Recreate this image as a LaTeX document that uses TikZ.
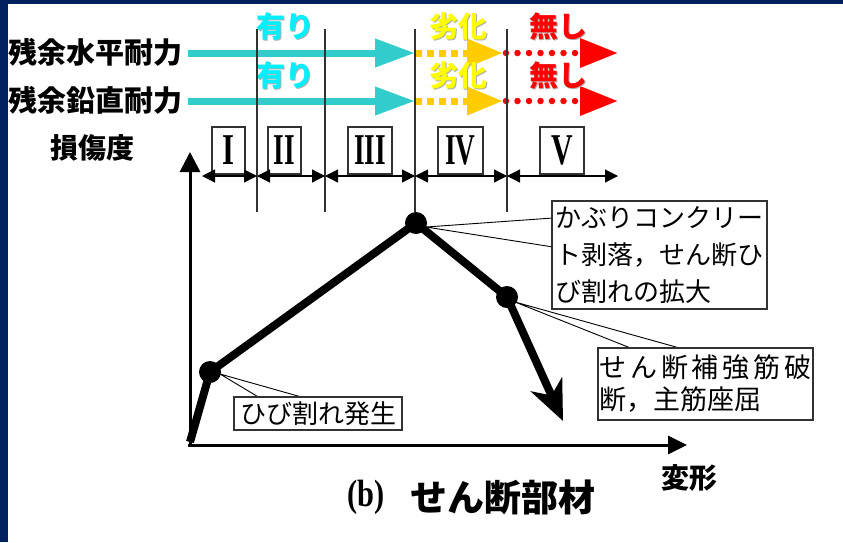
\documentclass[tikz,border=0pt]{standalone}
\usepackage{fontspec}
\usepackage{graphicx}
\setmainfont{Liberation Serif}
\newfontfamily\jp{Noto Sans CJK JP}
\usetikzlibrary{arrows.meta}
\definecolor{navy}{RGB}{0,32,96}
\definecolor{arrcyan}{RGB}{51,204,204}
\definecolor{txtcyan}{RGB}{0,240,255}
\definecolor{arryel}{RGB}{255,204,0}
\definecolor{txtyel}{RGB}{255,255,0}
\definecolor{arrred}{RGB}{255,0,0}
\definecolor{shadowgray}{RGB}{175,175,175}
\definecolor{boxgray}{RGB}{50,50,50}
\newcommand\shadowtxt[2]{\makebox[0pt][l]{\hspace{1.8pt}\raisebox{-1.8pt}{\textcolor{shadowgray}{#2}}}\textcolor{#1}{#2}}
\begin{document}
\begin{tikzpicture}[x=1pt,y=-1pt,
  rowlbl/.style={font=\jp\bfseries\fontsize{29}{30}\selectfont, inner sep=0},
  stat/.style={font=\jp\bfseries\fontsize{29}{30}\selectfont, inner sep=0},
  romanbox/.style={draw=boxgray, line width=1.2pt, fill=white, minimum height=47pt, inner sep=0, font=\bfseries\fontsize{44}{44}\selectfont},
  sepline/.style={draw=boxgray, line width=1.2pt},
  span/.style={{Triangle[length=13pt,width=13pt]}-{Triangle[length=13pt,width=13pt]}, line width=1.2pt},
  callbox/.style={draw=boxgray, line width=1.2pt, fill=white, align=left, inner sep=0},
  callline/.style={line width=0.9pt},
  curveline/.style={line width=8pt, -{Stealth[length=40pt,width=34pt,inset=12pt]}},
  bigdot/.style={circle, fill=black, minimum size=22pt, inner sep=0},
  axisline/.style={line width=3pt}
]
\useasboundingbox (0,0) rectangle (843,542);
\fill[navy] (0,0) rectangle (843,4);
\fill[navy] (0,0) rectangle (8,542);

% row labels
\node[rowlbl, anchor=west] (L1) at (8,52) {残余水平耐力};
\node[rowlbl, anchor=west] (L2) at (8,100) {残余鉛直耐力};
\node[font=\jp\bfseries\fontsize{28}{30}\selectfont, inner sep=0] (L3) at (92,148) {損傷度};

% arrows coordinates
\coordinate (c1s) at (188,53); \coordinate (c1e) at (415,53);
\coordinate (y1e) at (503,53); \coordinate (r1s) at (506,53); \coordinate (r1e) at (618,53);
\coordinate (c2s) at (188,101); \coordinate (c2e) at (415,101);
\coordinate (y2e) at (503,101); \coordinate (r2s) at (506,101); \coordinate (r2e) at (618,101);

\foreach \r in {1,2}{
  \draw[arrcyan, line width=7pt, -{Triangle[length=40pt,width=27pt]}] (c\r s) -- (c\r e);
  \draw[arryel, line width=7pt, dash pattern=on 7pt off 5pt, -{Triangle[length=36pt,width=27pt]}] (c\r e) -- (y\r e);
  \draw[arrred, line width=6.5pt, line cap=round, dash pattern=on 0pt off 11.5pt, -{Triangle[length=38pt,width=28pt]}] (r\r s) -- (r\r e);
}

% status texts with shadows
\foreach \y/\n in {27/1,76/2}{
  \node[stat] (a\n) at (285,\y) {\shadowtxt{txtcyan}{有り}};
  \node[stat] (b\n) at (458,\y) {\shadowtxt{txtyel}{劣化}};
  \node[stat] (d\n) at (558,\y) {\shadowtxt{arrred}{無し}};
}

% separator lines
\foreach \x/\n in {257/a,325/b,415/c,507/d}{
  \coordinate (t\n) at (\x,29);
  \coordinate (u\n) at (\x,212);
  \draw[sepline] (t\n) -- (u\n);
}

% roman boxes
\node[romanbox, minimum width=33pt] (R1) at (228.5,150.5) {\scalebox{0.7}[1]{I}};
\node[romanbox, minimum width=33pt] (R2) at (284.5,150.5) {\scalebox{0.62}[1]{II}};
\node[romanbox, minimum width=44pt] (R3) at (370,150.5) {\scalebox{0.62}[1]{III}};
\node[romanbox, minimum width=45pt] (R4) at (460.5,150.5) {\scalebox{0.62}[1]{IV}};
\node[romanbox, minimum width=44pt] (R5) at (562,150.5) {\scalebox{0.68}[1]{V}};

% span arrows
\coordinate (p0) at (202,176); \coordinate (p1) at (257,176);
\coordinate (p2) at (325,176); \coordinate (p3) at (415,176);
\coordinate (p4) at (507,176); \coordinate (p5) at (618,176);
\draw[span] (p0) -- (p1);
\draw[span] (p1) -- (p2);
\draw[span] (p2) -- (p3);
\draw[span] (p3) -- (p4);
\draw[span] (p4) -- (p5);

% axes
\coordinate (O) at (190,445);
\coordinate (Ytip) at (190,152);
\coordinate (Xtip) at (687,445);
\draw[axisline, -{Triangle[length=20pt,width=20pt]}] (190,444) -- (Ytip);
\draw[axisline, -{Triangle[length=19pt,width=18pt]}] (188,445) -- (Xtip);

% callouts
\coordinate (k1) at (220,374);
\coordinate (k2) at (426,227);
\coordinate (k3) at (515,302);
\draw[callline] (k1) -- (260,398) (k1) -- (305,398);
\draw[callline] (k2) -- (553,218) (k2) -- (553,247);
\draw[callline] (k3) -- (633,349) (k3) -- (683,349);

\node[callbox, minimum width=215pt, minimum height=108pt, font=\jp\fontsize{26}{37}\selectfont] (B1) at (659.5,255)
  {かぶりコンクリー\\ト剥落，せん断ひ\\び割れの拡大};
\node[callbox, minimum width=215pt, minimum height=72pt, font=\jp\fontsize{27}{32}\selectfont] (B2) at (705.5,384)
  {せ\hspace{4pt}ん\hspace{4pt}断\hspace{4pt}補\hspace{4pt}強\hspace{4pt}筋\hspace{4pt}破\\断，主筋座屈};
\node[callbox, minimum width=168pt, minimum height=33pt, font=\jp\fontsize{26}{30}\selectfont] (B3) at (318,413.5)
  {ひび割れ発生};

% curve
\node[bigdot] (n1) at (210,372) {};
\node[bigdot] (pk) at (416,223) {};
\node[bigdot] (n3) at (507,297) {};
\coordinate (ctip) at (563,421);
\draw[line width=8pt] (190,442) -- (n1.center) -- (pk.center) -- (n3.center);
\draw[curveline] (n3.center) -- (ctip);

% axis labels and title
\node[font=\jp\bfseries\fontsize{28}{30}\selectfont, inner sep=0] (xl) at (689,478) {変形};
\node[font=\bfseries\fontsize{38}{40}\selectfont, inner sep=0] (tb) at (366,497) {\scalebox{0.8}[1]{(b)}};
\node[font=\jp\bfseries\fontsize{37}{40}\selectfont, inner sep=0, anchor=west] (tt) at (410,497) {せん断部材};
\end{tikzpicture}
\end{document}
